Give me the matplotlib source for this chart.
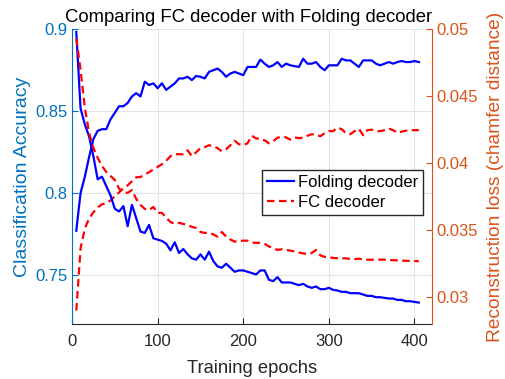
import numpy as np
import matplotlib
matplotlib.use("Agg")
import matplotlib.pyplot as plt

plt.rcParams['font.family'] = ['Liberation Sans', 'DejaVu Sans']

epochs = list(range(5, 406, 5))

folding_acc = [0.777, 0.800, 0.810, 0.822, 0.833, 0.838, 0.839, 0.839, 0.845, 0.849,
               0.853, 0.853, 0.855, 0.859, 0.861, 0.859, 0.868, 0.866, 0.867, 0.864,
               0.867, 0.863, 0.865, 0.867, 0.870, 0.870, 0.871, 0.869, 0.8715, 0.871,
               0.870, 0.874, 0.875, 0.876, 0.874, 0.871, 0.873, 0.874, 0.873, 0.872,
               0.877, 0.877, 0.877, 0.8815, 0.879, 0.877, 0.878, 0.880, 0.877, 0.879,
               0.878, 0.8775, 0.877, 0.882, 0.879, 0.879, 0.880, 0.877, 0.875, 0.878,
               0.878, 0.878, 0.882, 0.881, 0.881, 0.879, 0.877, 0.881, 0.881, 0.881,
               0.879, 0.878, 0.879, 0.880, 0.879, 0.880, 0.8806, 0.880, 0.880, 0.8806,
               0.880]

fc_acc = [0.7282, 0.7662, 0.7784, 0.7845, 0.7882, 0.7912, 0.7931, 0.7937, 0.7955, 0.7980,
          0.8004, 0.8030, 0.8047, 0.8072, 0.8096, 0.8098, 0.8114, 0.8127, 0.8145, 0.8160,
          0.8176, 0.8197, 0.8225, 0.8237, 0.8237, 0.8237, 0.8261, 0.8225, 0.8249, 0.8274,
          0.8280, 0.8292, 0.8286, 0.8274, 0.8255, 0.8267, 0.8292, 0.8319, 0.8298, 0.8292,
          0.8304, 0.8350, 0.8333, 0.8332, 0.8322, 0.8304, 0.8316, 0.8338, 0.8343, 0.8340,
          0.8326, 0.8340, 0.8335, 0.8338, 0.8350, 0.8359, 0.8356, 0.8347, 0.8365, 0.8378,
          0.8378, 0.8399, 0.8390, 0.8365, 0.8359, 0.8378, 0.8393, 0.8353, 0.8384, 0.8387,
          0.8378, 0.8378, 0.8384, 0.8394, 0.8384, 0.8368, 0.8375, 0.8381, 0.8384, 0.8384,
          0.8384]

folding_loss = [0.0498, 0.0441, 0.0429, 0.0420, 0.0405, 0.0388, 0.0390, 0.0383, 0.0376, 0.0366,
                0.0364, 0.0368, 0.0353, 0.0369, 0.0359, 0.0349, 0.0348, 0.0354, 0.0344, 0.0343,
                0.0342, 0.0340, 0.0335, 0.0341, 0.0333, 0.0336, 0.0332, 0.0329, 0.0328, 0.0332,
                0.0328, 0.0334, 0.0327, 0.0323, 0.0322, 0.0325, 0.0322, 0.0319, 0.0320, 0.0320,
                0.0319, 0.0318, 0.0317, 0.0320, 0.0320, 0.0313, 0.0312, 0.0315, 0.0311, 0.0311,
                0.0311, 0.0310, 0.0309, 0.0310, 0.0308, 0.0307, 0.0308, 0.0306, 0.0306, 0.0307,
                0.03055, 0.0305, 0.0304, 0.0304, 0.0303, 0.0303, 0.0303, 0.0302, 0.0301, 0.0301,
                0.0300, 0.0300, 0.02995, 0.0299, 0.0299, 0.0298, 0.0298, 0.0297, 0.0297, 0.02965,
                0.0296]

fc_loss = [0.04933, 0.04696, 0.04413, 0.04226, 0.04114, 0.04040, 0.03980, 0.03935, 0.03905, 0.03875,
           0.03810, 0.03780, 0.03780, 0.03800, 0.03734, 0.03689, 0.03659, 0.03651, 0.03674, 0.03629,
           0.03630, 0.03592, 0.03562, 0.03547, 0.03555, 0.03547, 0.03540, 0.03525, 0.03517, 0.03487,
           0.03480, 0.03480, 0.03469, 0.03452, 0.03487, 0.03452, 0.03431, 0.03415, 0.03420, 0.03422,
           0.03422, 0.03409, 0.03405, 0.03407, 0.03398, 0.03379, 0.03366, 0.03353, 0.03358, 0.03353,
           0.03348, 0.03342, 0.03334, 0.03327, 0.03323, 0.03330, 0.03353, 0.03312, 0.03301, 0.03299,
           0.03293, 0.03291, 0.03290, 0.03290, 0.03286, 0.03285, 0.03287, 0.03283, 0.03280, 0.03280,
           0.03280, 0.03281, 0.03280, 0.03278, 0.03276, 0.03275, 0.03273, 0.03272, 0.03271, 0.03270,
           0.03269]

x_ticks = [0, 100, 200, 300, 400]
left_ticks = [0.75, 0.8, 0.85, 0.9]
right_ticks = [0.03, 0.035, 0.04, 0.045, 0.05]

BLUE_AX = '#0072BD'
ORANGE_AX = '#D95319'
DARK = '#262626'

fig = plt.figure(figsize=(5.06, 3.79), dpi=100)
ax = fig.add_axes([0.1423, 0.1451, 0.7107, 0.7776])
ax2 = ax.twinx()

lw = 1.6
dash = (0, (3.4, 2.0))
l1, = ax.plot(epochs, folding_acc, color='#0000FF', lw=lw, label='Folding decoder')
l2, = ax.plot(epochs, fc_acc, color='#FF0000', lw=lw, linestyle=dash, label='FC decoder')
ax2.plot(epochs, folding_loss, color='#0000FF', lw=lw)
ax2.plot(epochs, fc_loss, color='#FF0000', lw=lw, linestyle=dash)

ax.set_xlim(0, 420)
ax.set_ylim(0.72, 0.9)
ax2.set_ylim(0.028, 0.05)
ax.set_xticks(x_ticks)
ax.set_yticks(left_ticks)
ax.set_yticklabels(['0.75', '0.8', '0.85', '0.9'])
ax2.set_yticks(right_ticks)
ax2.set_yticklabels(['0.03', '0.035', '0.04', '0.045', '0.05'])

ax.grid(True, color='#e3e3e3', lw=0.8)
ax.set_axisbelow(True)

for a in (ax, ax2):
    a.spines['top'].set_visible(False)
ax.spines['right'].set_visible(False)
ax2.spines['left'].set_visible(False)
ax2.spines['bottom'].set_visible(False)
ax.spines['left'].set_color(BLUE_AX)
ax2.spines['right'].set_color(ORANGE_AX)
ax.spines['bottom'].set_color(DARK)

ax.tick_params(axis='y', colors=BLUE_AX, direction='in', labelsize=12, length=4)
ax.tick_params(axis='x', colors=DARK, direction='in', labelsize=12, length=4, pad=7)
ax2.tick_params(axis='y', colors=ORANGE_AX, direction='in', labelsize=12, length=4)

ax.set_xlabel('Training epochs', fontsize=13.2, color=DARK, labelpad=8)
ax.set_ylabel('Classification Accuracy', fontsize=14, color=BLUE_AX, labelpad=3)
ax2.set_ylabel('Reconstruction loss (chamfer distance)', fontsize=13.8, color=ORANGE_AX, labelpad=6.5)
ax.set_title('Comparing FC decoder with Folding decoder', fontsize=13.3, color='black',
             pad=5.5, x=0.49)

ax2.legend([l1, l2], ['Folding decoder', 'FC decoder'], loc='center right',
           bbox_to_anchor=(0.977, 0.446), borderaxespad=0, fontsize=12, frameon=True,
           fancybox=False, edgecolor=DARK, framealpha=1, handlelength=1.6,
           handletextpad=0.25, borderpad=0.3, labelspacing=0.3)

fig.savefig('out.png', dpi=100)
